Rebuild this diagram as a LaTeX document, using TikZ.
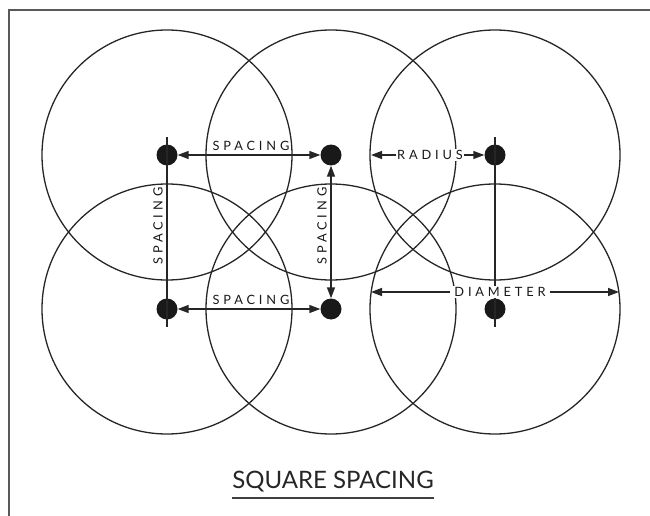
\documentclass[tikz,border=0pt]{standalone}
\usepackage{fontspec}
\setmainfont{Lato}
\newfontfamily\labfont[LetterSpace=30]{Lato}
\usetikzlibrary{arrows.meta}
\begin{document}
\begin{tikzpicture}[x=1pt,y=-1pt,
  ring/.style={line width=1.3pt,draw=black!85},
  dot/.style={circle,fill=black!90,inner sep=0pt,minimum size=21pt},
  axis/.style={line width=1.4pt,draw=black!85},
  dim/.style={line width=1.4pt,draw=black!85,{Triangle[length=11pt,width=8pt]}-{Triangle[length=11pt,width=8pt]}},
  half/.style={line width=1.4pt,draw=black!85,-{Triangle[length=11pt,width=8pt]}},
  lab/.style={font=\labfont\fontsize{12.8}{13}\selectfont,text=black!90,inner sep=1pt},
  frame/.style={line width=2pt,draw=black!65}]
\useasboundingbox (0,0) rectangle (650,516);
\draw[frame] (8.5,516) -- (8.5,10) -- (650,10);
% dots (circle centres)
\node[dot] (d11) at (167,155) {};
\node[dot] (d12) at (331,155) {};
\node[dot] (d13) at (495,155) {};
\node[dot] (d21) at (167,309) {};
\node[dot] (d22) at (331,309) {};
\node[dot] (d23) at (495,309) {};
% circles
\foreach \d in {d11,d12,d13,d21,d22,d23}
  \draw[ring] (\d.center) circle[radius=125];
% column lines through dots
\coordinate (l1t) at (167,137); \coordinate (l1b) at (167,327);
\coordinate (l3t) at (495,137); \coordinate (l3b) at (495,327);
\draw[axis] (l1t) -- (l1b);
\draw[axis] (l3t) -- (l3b);
% spacing arrows
\draw[dim] (d11) -- (d12);
\draw[dim] (d21) -- (d22);
\draw[dim] (d12) -- (d22);
\node[lab,anchor=south] (s1) at (251,152) {SPACING};
\node[lab,anchor=south] (s2) at (251,306) {SPACING};
\node[lab,rotate=90,anchor=south] (s3) at (164,226) {SPACING};
\node[lab,rotate=90,anchor=south] (s4) at (328,226) {SPACING};
% radius
\node[lab,fill=white] (rad) at (430,155) {RADIUS};
\coordinate (radL) at (371,155);
\draw[half] (rad.west) -- (radL);
\draw[half] (rad.east) -- (d13);
% diameter
\node[lab,fill=white,inner xsep=4pt] (dia) at (500,292) {DIAMETER};
\coordinate (diaL) at (371,292);
\coordinate (diaR) at (619,292);
\draw[half] (dia.west) -- (diaL);
\draw[half] (dia.east) -- (diaR);
% title
\node[font=\fontsize{24}{24}\selectfont,text=black!85,inner sep=0pt,anchor=base] (title) at (333,488) {SQUARE SPACING};
\draw[line width=1.6pt,draw=black!75] ([yshift=-10pt]title.base west) -- ([yshift=-10pt]title.base east);
\end{tikzpicture}
\end{document}
